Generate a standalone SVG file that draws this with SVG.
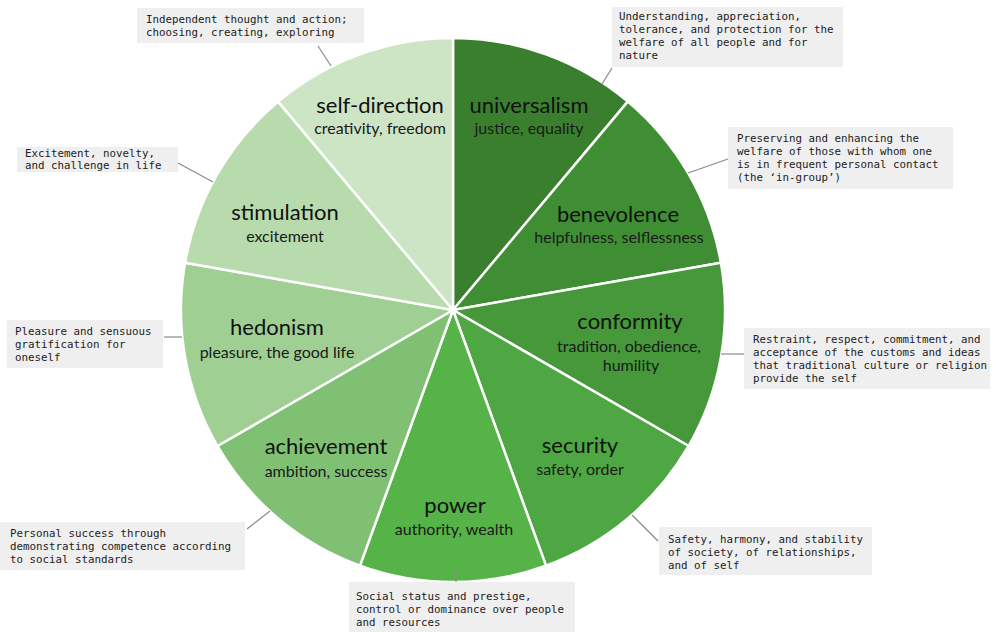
<svg xmlns="http://www.w3.org/2000/svg" width="996" height="632" viewBox="0 0 996 632">
  <style>
    .slice { stroke: #ffffff; stroke-width: 2.5; stroke-linejoin: round; }
    .title { font-family: Lato, "Open Sans", "Liberation Sans", sans-serif; font-size: 22px; fill: #111111; text-anchor: middle; }
    .sub { font-family: Lato, "Open Sans", "Liberation Sans", sans-serif; font-size: 16px; fill: #1a1a1a; text-anchor: middle; }
    .box { fill: #efefef; }
    .note { font-family: "DejaVu Sans Mono", "Liberation Mono", monospace; font-size: 10.8px; fill: #222222; }
    .leader { stroke: #8a8a8a; stroke-width: 1.2; fill: none; }
  </style>

  <!-- wedges: nine 40-degree sectors around (453,310), r=272 -->
  <g id="universalism">
    <path class="slice" fill="#3a7f2e" d="M453,310 L453,38 A272,272 0 0 1 627.8,101.6 Z"/>
    <text class="title" x="529" y="113">universalism</text>
    <text class="sub" x="529" y="134">justice, equality</text>
  </g>
  <g id="benevolence">
    <path class="slice" fill="#3f8e34" d="M453,310 L627.8,101.6 A272,272 0 0 1 720.9,262.8 Z"/>
    <text class="title" x="618" y="222">benevolence</text>
    <text class="sub" x="619" y="243">helpfulness, selflessness</text>
  </g>
  <g id="conformity">
    <path class="slice" fill="#46983b" d="M453,310 L720.9,262.8 A272,272 0 0 1 688.6,446 Z"/>
    <text class="title" x="630" y="329">conformity</text>
    <text class="sub" x="629" y="352">tradition, obedience,</text>
    <text class="sub" x="631" y="371">humility</text>
  </g>
  <g id="security">
    <path class="slice" fill="#4ea742" d="M453,310 L688.6,446 A272,272 0 0 1 546,565.6 Z"/>
    <text class="title" x="580" y="453">security</text>
    <text class="sub" x="580" y="475">safety, order</text>
  </g>
  <g id="power">
    <path class="slice" fill="#56b347" d="M453,310 L546,565.6 A272,272 0 0 1 360,565.6 Z"/>
    <text class="title" x="455" y="513">power</text>
    <text class="sub" x="454" y="535">authority, wealth</text>
  </g>
  <g id="achievement">
    <path class="slice" fill="#80c073" d="M453,310 L360,565.6 A272,272 0 0 1 217.4,446 Z"/>
    <text class="title" x="326" y="454">achievement</text>
    <text class="sub" x="326" y="477">ambition, success</text>
  </g>
  <g id="hedonism">
    <path class="slice" fill="#a0cf93" d="M453,310 L217.4,446 A272,272 0 0 1 185.1,262.8 Z"/>
    <text class="title" x="277" y="335">hedonism</text>
    <text class="sub" x="277" y="358">pleasure, the good life</text>
  </g>
  <g id="stimulation">
    <path class="slice" fill="#b8dbad" d="M453,310 L185.1,262.8 A272,272 0 0 1 278.2,101.6 Z"/>
    <text class="title" x="285" y="220">stimulation</text>
    <text class="sub" x="285" y="242">excitement</text>
  </g>
  <g id="self-direction">
    <path class="slice" fill="#cde4c5" d="M453,310 L278.2,101.6 A272,272 0 0 1 453,38 Z"/>
    <text class="title" x="380" y="113">self-direction</text>
    <text class="sub" x="380" y="134">creativity, freedom</text>
  </g>

  <!-- leader lines from the notes to the wheel -->
  <g id="connectors">
    <line class="leader" x1="318" y1="46" x2="331" y2="66"/>
    <line class="leader" x1="612" y1="68" x2="602" y2="84"/>
    <line class="leader" x1="728" y1="159" x2="688" y2="173"/>
    <line class="leader" x1="721" y1="354" x2="744" y2="354"/>
    <line class="leader" x1="632" y1="515" x2="658" y2="541"/>
    <line class="leader" x1="456" y1="570" x2="456" y2="589"/>
    <line class="leader" x1="247" y1="529" x2="270" y2="511"/>
    <line class="leader" x1="164" y1="337" x2="182" y2="337"/>
    <line class="leader" x1="178" y1="163" x2="213" y2="182"/>
  </g>

  <!-- description notes -->
  <g id="note-self-direction">
    <rect class="box" x="137" y="8" width="227" height="35"/>
    <text class="note" x="146" y="23">Independent thought and action;</text>
    <text class="note" x="146" y="36">choosing, creating, exploring</text>
  </g>
  <g id="note-universalism">
    <rect class="box" x="612" y="7" width="231" height="60"/>
    <text class="note" x="619" y="20">Understanding, appreciation,</text>
    <text class="note" x="619" y="33">tolerance, and protection for the</text>
    <text class="note" x="619" y="46">welfare of all people and for</text>
    <text class="note" x="619" y="59">nature</text>
  </g>
  <g id="note-benevolence">
    <rect class="box" x="728" y="127" width="225" height="62"/>
    <text class="note" x="737" y="142">Preserving and enhancing the</text>
    <text class="note" x="737" y="155">welfare of those with whom one</text>
    <text class="note" x="737" y="168">is in frequent personal contact</text>
    <text class="note" x="737" y="181">(the ‘in-group’)</text>
  </g>
  <g id="note-conformity">
    <rect class="box" x="744" y="328" width="246" height="61"/>
    <text class="note" x="753" y="343">Restraint, respect, commitment, and</text>
    <text class="note" x="753" y="356">acceptance of the customs and ideas</text>
    <text class="note" x="753" y="369">that traditional culture or religion</text>
    <text class="note" x="753" y="382">provide the self</text>
  </g>
  <g id="note-security">
    <rect class="box" x="659" y="527" width="213" height="48"/>
    <text class="note" x="668" y="543">Safety, harmony, and stability</text>
    <text class="note" x="668" y="556">of society, of relationships,</text>
    <text class="note" x="668" y="569">and of self</text>
  </g>
  <g id="note-power">
    <rect class="box" x="349" y="582" width="226" height="50"/>
    <text class="note" x="356" y="600">Social status and prestige,</text>
    <text class="note" x="356" y="613">control or dominance over people</text>
    <text class="note" x="356" y="626">and resources</text>
  </g>
  <g id="note-achievement">
    <rect class="box" x="0" y="522" width="245" height="48"/>
    <text class="note" x="10" y="537">Personal success through</text>
    <text class="note" x="10" y="550">demonstrating competence according</text>
    <text class="note" x="10" y="563">to social standards</text>
  </g>
  <g id="note-hedonism">
    <rect class="box" x="7" y="320" width="156" height="48"/>
    <text class="note" x="15" y="335">Pleasure and sensuous</text>
    <text class="note" x="15" y="348">gratification for</text>
    <text class="note" x="15" y="361">oneself</text>
  </g>
  <g id="note-stimulation">
    <rect class="box" x="17" y="147" width="161" height="25"/>
    <text class="note" x="25" y="157">Excitement, novelty,</text>
    <text class="note" x="25" y="169">and challenge in life</text>
  </g>
</svg>
